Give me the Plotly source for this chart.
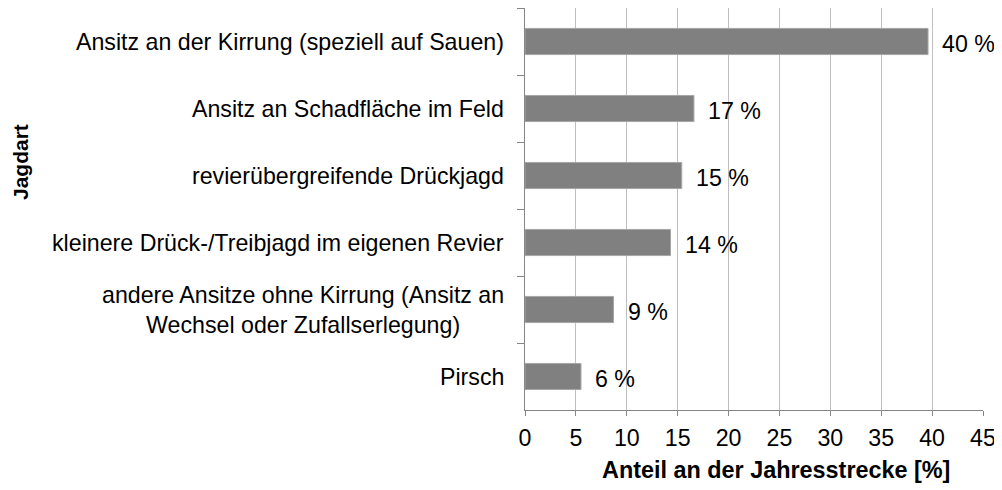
import plotly.graph_objects as go

categories = [
    "Ansitz an der Kirrung (speziell auf Sauen)",
    "Ansitz an Schadfläche im Feld",
    "revierübergreifende Drückjagd",
    "kleinere Drück-/Treibjagd im eigenen Revier",
    "andere Ansitze ohne Kirrung (Ansitz an<br>Wechsel oder Zufallserlegung)",
    "Pirsch",
]
values = [39.6, 16.6, 15.4, 14.3, 8.7, 5.5]
value_labels = ["40 %", "17 %", "15 %", "14 %", "9 %", "6 %"]
x_ticks = [0, 5, 10, 15, 20, 25, 30, 35, 40, 45]
x_title = "Anteil an der Jahresstrecke [%]"
y_title = "Jagdart"

FONT = "Liberation Sans, Arial, sans-serif"
FS_CAT = 23.2
FS_LAB = 23.2
FS_TICK = 23.2
FS_TITLE = 23.4
FS_YTITLE = 21

# page body has an 8px default margin, so the figure is drawn at (8, 8)
OFF = 8
W, H = 1002 - OFF, 490 - OFF
L, R, T, B = 525 - OFF, 19, 8 - OFF, 80
pw, ph = W - L - R, H - T - B


def px_to_paper(xp, yp):
    return ((xp - OFF - L) / pw, (H - (yp - OFF) - B) / ph)


fig = go.Figure(
    go.Bar(
        x=values,
        y=categories,
        orientation="h",
        width=0.39,
        marker=dict(color="#808080", line=dict(color="#a6a6a6", width=1)),
        hoverinfo="skip",
    )
)

annotations = []
for cat in categories:
    annotations.append(dict(
        x=0, xref="paper", y=cat, yref="y", text=cat,
        xanchor="right", yanchor="middle", align="center",
        showarrow=False, xshift=-19,
        font=dict(family=FONT, size=FS_CAT, color="black"),
    ))
for cat, v, lab in zip(categories, values, value_labels):
    annotations.append(dict(
        x=v, xref="x", y=cat, yref="y", text=lab,
        xanchor="left", yanchor="middle",
        showarrow=False, xshift=12, yshift=-2,
        font=dict(family=FONT, size=FS_LAB, color="black"),
    ))
tx, ty = px_to_paper(776, 470)
annotations.append(dict(
    x=tx, xref="paper", y=ty, yref="paper", text="<b>" + x_title + "</b>",
    showarrow=False, xanchor="center", yanchor="middle",
    font=dict(family=FONT, size=FS_TITLE, color="black"),
))
yx, yy = px_to_paper(20, 162)
annotations.append(dict(
    x=yx, xref="paper", y=yy, yref="paper", text="<b>" + y_title + "</b>",
    textangle=-90, showarrow=False, xanchor="center", yanchor="middle",
    font=dict(family=FONT, size=FS_YTITLE, color="black"),
))

fig.update_layout(
    width=W, height=H,
    margin=dict(l=L, r=R, t=T, b=B, pad=0),
    plot_bgcolor="white", paper_bgcolor="white",
    showlegend=False,
    annotations=annotations,
    font=dict(family=FONT, size=FS_TICK, color="black"),
)
fig.update_xaxes(
    range=[0, 45], tickvals=x_ticks, ticktext=[str(t) for t in x_ticks],
    showgrid=True, gridcolor="#bfbfbf", gridwidth=1,
    showline=True, linecolor="#868686", linewidth=1,
    ticks="outside", ticklen=5, tickcolor="#868686",
    tickfont=dict(family=FONT, size=FS_TICK, color="black"),
    ticklabelstandoff=2,
    zeroline=False, fixedrange=True,
)
fig.update_yaxes(
    categoryorder="array", categoryarray=categories,
    range=[5.5, -0.5],
    showticklabels=False,
    showline=True, linecolor="#868686", linewidth=1,
    ticks="outside", ticklen=7, tickcolor="#868686", tickson="boundaries",
    showgrid=False, zeroline=False, fixedrange=True,
)

fig.write_html("out.html")
